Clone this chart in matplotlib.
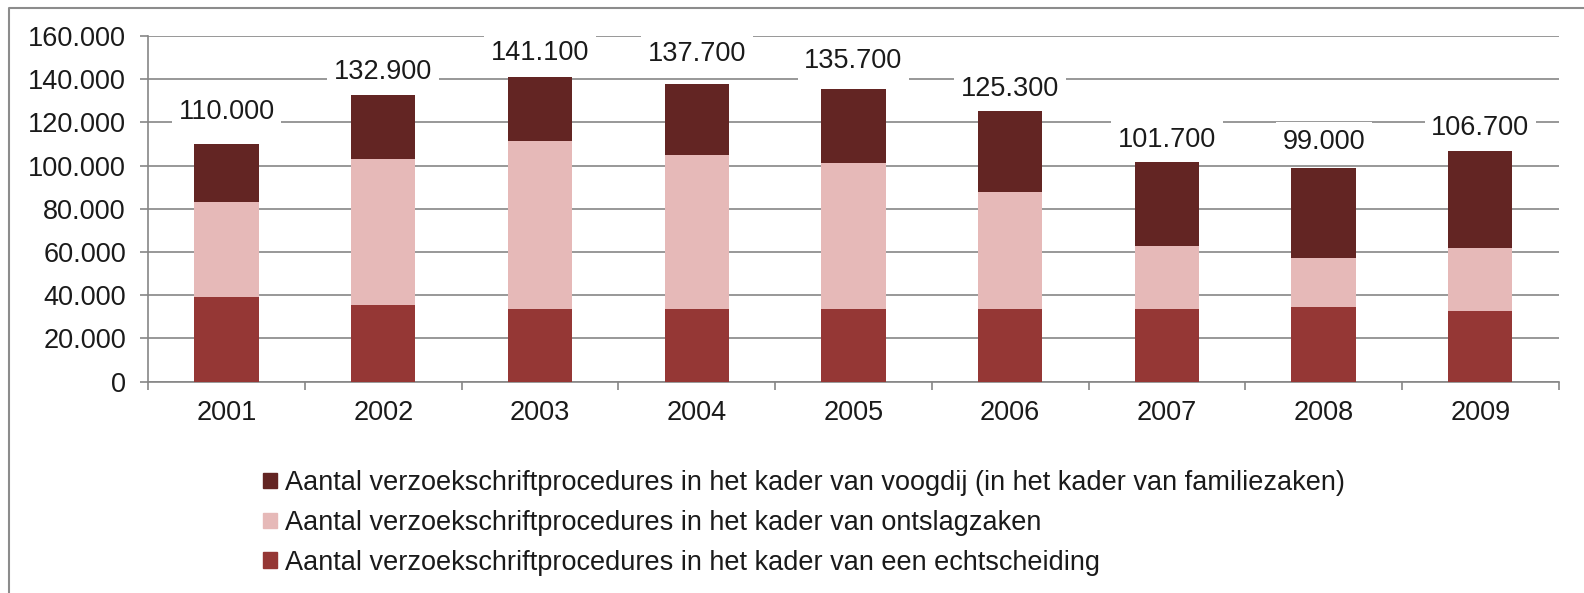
import matplotlib
matplotlib.use("Agg")
import matplotlib.pyplot as plt
from matplotlib.patches import Patch
from matplotlib.lines import Line2D
from matplotlib.ticker import FuncFormatter, FixedLocator
import numpy as np

years = ["2001", "2002", "2003", "2004", "2005", "2006", "2007", "2008", "2009"]
echtscheiding = [39300, 35600, 33500, 33500, 33500, 33500, 33500, 34600, 32600]
ontslagzaken = [43700, 67500, 78000, 71400, 67600, 54300, 29400, 22800, 29400]
voogdij = [27000, 29800, 29600, 32800, 34600, 37500, 38800, 41600, 44700]
total_labels = ["110.000", "132.900", "141.100", "137.700", "135.700",
                "125.300", "101.700", "99.000", "106.700"]
label_offsets_px = [32, 23, 24, 30, 28, 22, 22, 26, 23]

series_names = [
    "Aantal verzoekschriftprocedures in het kader van voogdij (in het kader van familiezaken)",
    "Aantal verzoekschriftprocedures in het kader van ontslagzaken",
    "Aantal verzoekschriftprocedures in het kader van een echtscheiding",
]
c_voog = "#632523"
c_ont = "#E6B9B8"
c_echt = "#953735"
grid_c = "#868686"
txt_c = "#1a1a1a"

plt.rcParams['font.family'] = ['Liberation Sans', 'DejaVu Sans']

W, H = 1584, 593
fig = plt.figure(figsize=(W / 100, H / 100), dpi=100)
ax = fig.add_axes([148.2 / W, 1 - 381.7 / H, (1558.7 - 148.2) / W, (381.7 - 36) / H])

x = np.arange(len(years))
bw = 0.41
e = np.array(echtscheiding)
o = np.array(ontslagzaken)
v = np.array(voogdij)
ax.bar(x, e, bw, color=c_echt, zorder=3)
ax.bar(x, o, bw, bottom=e, color=c_ont, zorder=3)
ax.bar(x, v, bw, bottom=e + o, color=c_voog, zorder=3)

fs = 19.5
for xi, t, lab, off in zip(x, e + o + v, total_labels, label_offsets_px):
    ax.annotate(lab, (xi, t), xytext=(0, off * 0.72), textcoords="offset points",
                ha="center", va="center", fontsize=fs, color=txt_c, zorder=5,
                bbox=dict(boxstyle="square,pad=0.25", fc="white", ec="none"))

ax.set_xlim(-0.5, len(years) - 0.5)
ax.set_ylim(0, 160000)
ax.yaxis.set_major_locator(FixedLocator(np.arange(0, 160001, 20000)))
ax.yaxis.set_major_formatter(FuncFormatter(lambda val, p: f"{int(val):,}".replace(",", ".")))
ax.set_xticks(x)
ax.set_xticklabels(years)
ax.set_xticks(np.arange(-0.5, len(years), 1), minor=True)
ax.tick_params(axis="x", which="major", length=0, pad=13, labelsize=fs, labelcolor=txt_c)
ax.tick_params(axis="x", which="minor", length=6, width=1.2, color=grid_c, direction="out")
ax.tick_params(axis="y", length=6, width=1.2, color=grid_c, pad=10, labelsize=fs, labelcolor=txt_c)

ax.grid(axis="y", color=grid_c, linewidth=1.2, zorder=1)
ax.set_axisbelow(True)
for s in ["top", "right"]:
    ax.spines[s].set_visible(False)
for s in ["left", "bottom"]:
    ax.spines[s].set_color(grid_c)
    ax.spines[s].set_linewidth(1.2)

handles = [Patch(color=c_voog), Patch(color=c_ont), Patch(color=c_echt)]
fig.legend(handles, series_names, loc="center left",
           bbox_to_anchor=(263 / W, 1 - 523 / H), frameon=False,
           fontsize=fs, handlelength=0.5, handleheight=0.5, handletextpad=0.3,
           labelspacing=0.51, borderpad=0, borderaxespad=0, labelcolor=txt_c)

fig.add_artist(Line2D([9 / W, 9 / W, 1.0], [0.0, 1 - 8 / H, 1 - 8 / H],
                      transform=fig.transFigure, color="#8c8c8c", linewidth=1.5))

fig.savefig("out.png", dpi=100, facecolor="white")
